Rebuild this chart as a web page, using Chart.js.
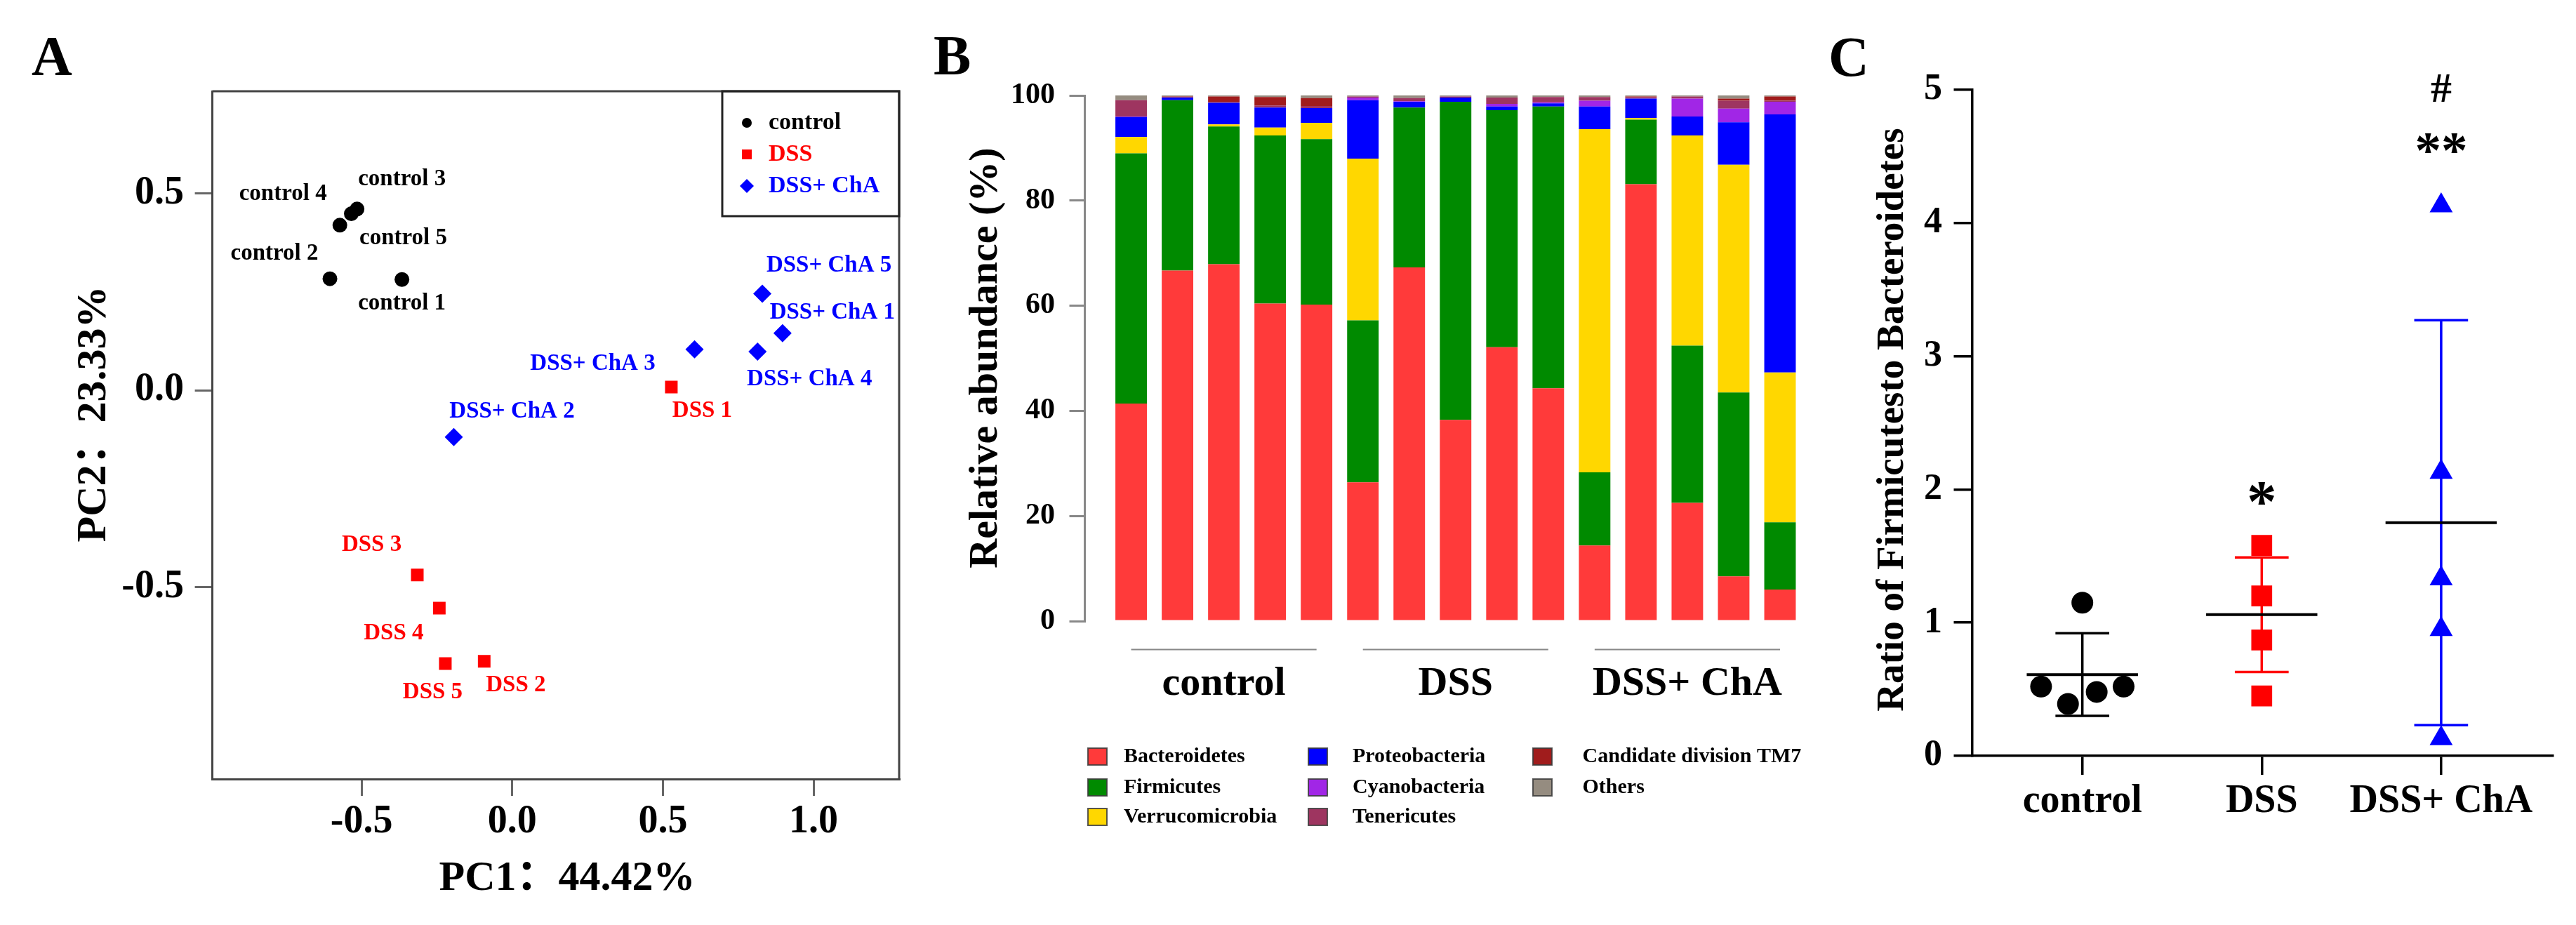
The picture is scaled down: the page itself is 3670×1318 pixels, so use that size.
<!DOCTYPE html>
<html>
<head>
<meta charset="utf-8">
<script src="https://cdn.jsdelivr.net/npm/chart.js@4.4.1/dist/chart.umd.min.js"></script>
<style>
html, body { margin: 0; padding: 0; background: #fff; }
#wrap { position: relative; width: 3670px; height: 1318px; overflow: hidden; background: #fff; }
canvas { position: absolute; top: 0; }
</style>
</head>
<body>
<div id="wrap">
  <canvas id="pcaChart" width="1300" height="1318" style="left:0px"></canvas>
  <canvas id="abundChart" width="1310" height="1318" style="left:1290px"></canvas>
  <canvas id="ratioChart" width="1090" height="1318" style="left:2580px"></canvas>
</div>
<script>
// ---------- A: PCA ----------
var pcaGroups = ['control', 'DSS', 'DSS+ ChA'];
var controlNames = ['control 1', 'control 2', 'control 3', 'control 4', 'control 5'];
var controlPC1 = [-0.366, -0.605, -0.515, -0.572, -0.534];
var controlPC2 = [0.281, 0.283, 0.460, 0.419, 0.448];
var dssNames = ['DSS 1', 'DSS 2', 'DSS 3', 'DSS 4', 'DSS 5'];
var dssPC1 = [0.528, -0.093, -0.315, -0.242, -0.222];
var dssPC2 = [0.008, -0.688, -0.469, -0.553, -0.694];
var chaNames = ['DSS+ ChA 1', 'DSS+ ChA 2', 'DSS+ ChA 3', 'DSS+ ChA 4', 'DSS+ ChA 5'];
var chaPC1 = [0.897, -0.194, 0.605, 0.814, 0.830];
var chaPC2 = [0.145, -0.119, 0.104, 0.098, 0.245];
var pcaTicksX = [-0.5, 0.0, 0.5, 1.0];
var pcaTicksY = [-0.5, 0.0, 0.5];

// ---------- B: relative abundance (%) ----------
var samples = ['control 1', 'control 2', 'control 3', 'control 4', 'control 5',
  'DSS 1', 'DSS 2', 'DSS 3', 'DSS 4', 'DSS 5',
  'DSS+ ChA 1', 'DSS+ ChA 2', 'DSS+ ChA 3', 'DSS+ ChA 4', 'DSS+ ChA 5'];
var sampleGroup = [0, 0, 0, 0, 0, 1, 1, 1, 1, 1, 2, 2, 2, 2, 2];
var phyla = ['Bacteroidetes', 'Firmicutes', 'Verrucomicrobia', 'Proteobacteria',
  'Cyanobacteria', 'Tenericutes', 'Candidate division TM7', 'Others'];
var bacteroidetes = [41.4, 66.7, 67.9, 60.4, 60.2, 26.4, 67.3, 38.3, 52.1, 44.3, 14.4, 83.1, 22.5, 8.5, 6.0];
var firmicutes = [47.6, 32.4, 26.2, 32.0, 31.5, 30.8, 30.4, 60.5, 45.1, 53.6, 13.9, 12.3, 29.9, 35.0, 12.8];
var verrucomicrobia = [3.1, 0, 0.4, 1.5, 3.1, 30.8, 0, 0, 0, 0, 65.3, 0.3, 40.0, 43.3, 28.5];
var proteobacteria = [3.8, 0.5, 4.1, 3.8, 2.8, 11.1, 1.1, 0.8, 0.7, 0.6, 4.3, 3.7, 3.6, 8.1, 49.1];
var cyanobacteria = [0.1, 0, 0, 0, 0, 0.5, 0.1, 0, 0.5, 0.2, 1.1, 0, 3.4, 2.6, 2.4];
var tenericutes = [3.1, 0.1, 0.2, 0.4, 0.4, 0.2, 0.6, 0.2, 1.2, 1.0, 0.7, 0.3, 0.4, 1.5, 0.2];
var tm7 = [0, 0.1, 1.0, 1.6, 1.5, 0, 0, 0, 0, 0, 0, 0.1, 0, 0.4, 0.8];
var others = [0.9, 0.2, 0.2, 0.3, 0.5, 0.2, 0.5, 0.2, 0.4, 0.3, 0.3, 0.2, 0.2, 0.6, 0.2];
var abundTicks = [0, 20, 40, 60, 80, 100];

// ---------- C: Firmicutes / Bacteroidetes ratio ----------
var ratioGroups = ['control', 'DSS', 'DSS+ ChA'];
var controlRatio = [1.15, 0.52, 0.39, 0.48, 0.52];
var controlRatioX = [0, -0.23, -0.08, 0.08, 0.23];
var dssRatio = [1.58, 1.20, 0.87, 0.45];
var dssRatioX = [1, 1, 1, 1];
var chaRatio = [4.13, 2.13, 1.33, 0.95, 0.13];
var chaRatioX = [2, 2, 2, 2, 2];
var ratioMean = [0.61, 1.06, 1.75];
var ratioSD = [0.31, 0.43, 1.52];
var sigText = ['*', '**', '#'];
var sigGroup = [1, 2, 2];
var sigLevel = [1.97, 4.60, 5.01];
var ratioTicks = [0, 1, 2, 3, 4, 5];

// ---------- styles ----------
var FONT = "'Liberation Serif', 'Times New Roman', 'Noto Sans CJK SC', serif";
Chart.defaults.font.family = FONT;
Chart.defaults.font.weight = 'bold';
Chart.defaults.color = '#000';

var groupColors = ['#000000', '#FF0000', '#0000FF'];
var phylaColors = ['#FF3A3A', '#008A00', '#FFD700', '#0000FF', '#A126E6', '#9E3560', '#A01C1C', '#958C80'];

// label offsets (px) for PCA point names, per group / sample
var pcaLabelShift = [
  [[0, 34], [-79, -36], [64, -42], [-81, -44], [74, 35]],
  [[44, 34], [45, 34], [-65, -43], [-65, 36], [-18, 41]],
  [[71, -29], [83, -36], [-145, 21], [74, 39], [95, -40]]
];

function txt(ctx, s, x, y, size, color, align, rot) {
  ctx.save();
  ctx.font = 'bold ' + size + 'px ' + FONT;
  ctx.fillStyle = color || '#000';
  ctx.textAlign = align || 'center';
  ctx.textBaseline = 'middle';
  ctx.translate(x, y);
  if (rot) ctx.rotate(rot);
  ctx.fillText(s, 0, 0);
  ctx.restore();
}

// draws a glyph with its visible box centred on (x, y)
function glyph(ctx, s, x, y, size, color) {
  ctx.save();
  ctx.font = 'bold ' + size + 'px ' + FONT;
  ctx.fillStyle = color;
  ctx.textAlign = 'center';
  ctx.textBaseline = 'alphabetic';
  var m = ctx.measureText(s);
  ctx.fillText(s, x, y + (m.actualBoundingBoxAscent - m.actualBoundingBoxDescent) / 2);
  ctx.restore();
}

function letter(ctx, s, x, y) {
  ctx.save();
  ctx.font = 'bold 80px ' + FONT;
  ctx.fillStyle = '#000';
  ctx.textAlign = 'left';
  ctx.textBaseline = 'alphabetic';
  ctx.fillText(s, x, y);
  ctx.restore();
}

function marker(ctx, style, x, y, r, color) {
  ctx.save();
  ctx.fillStyle = color;
  ctx.beginPath();
  if (style === 'circle') {
    ctx.arc(x, y, r, 0, Math.PI * 2);
  } else if (style === 'rect') {
    ctx.rect(x - r, y - r, 2 * r, 2 * r);
  } else {
    ctx.moveTo(x, y - r); ctx.lineTo(x + r, y); ctx.lineTo(x, y + r); ctx.lineTo(x - r, y);
    ctx.closePath();
  }
  ctx.fill();
  ctx.restore();
}

function tickGrid(color, len, width) {
  return { display: true, drawOnChartArea: false, drawTicks: true, tickLength: len, color: color, lineWidth: width };
}

// ---------- A ----------
var pcaDecor = {
  id: 'pcaDecor',
  afterDatasetsDraw: function(chart) {
    var ctx = chart.ctx;
    chart.data.datasets.forEach(function(ds, i) {
      chart.getDatasetMeta(i).data.forEach(function(pt, j) {
        var sh = pcaLabelShift[i][j];
        txt(ctx, ds.names[j], pt.x + sh[0], pt.y + sh[1], 33, ds.backgroundColor);
      });
    });
  },
  afterDraw: function(chart) {
    var ctx = chart.ctx, a = chart.chartArea;
    ctx.save();
    ctx.strokeStyle = '#444';
    ctx.lineWidth = 3;
    ctx.beginPath();
    ctx.moveTo(a.left, a.top); ctx.lineTo(a.right, a.top); ctx.lineTo(a.right, a.bottom);
    ctx.stroke();
    // legend box in the top right corner
    var lw = 252, lh = 178, lx = a.right - lw, ly = a.top;
    ctx.strokeStyle = '#222';
    ctx.strokeRect(lx, ly, lw, lh);
    ctx.restore();
    var legR = [7, 7, 10];
    chart.data.datasets.forEach(function(ds, i) {
      var cy = ly + 45 + i * 45;
      marker(ctx, ds.pointStyle === 'rectRot' ? 'diamond' : ds.pointStyle, lx + 35, cy, legR[i], ds.backgroundColor);
      txt(ctx, ds.label, lx + 66, cy, 34, ds.backgroundColor, 'left');
    });
    letter(ctx, 'A', 45, 107);
    txt(ctx, 'PC1：44.42%', 808, 1252, 60, '#000');
    txt(ctx, 'PC2：23.33%', 134, 590, 60, '#000', 'center', -Math.PI / 2);
  }
};

function pts(xs, ys) { return xs.map(function(x, i) { return { x: x, y: ys[i] }; }); }

new Chart(document.getElementById('pcaChart'), {
  type: 'scatter',
  data: {
    datasets: [
      { label: pcaGroups[0], names: controlNames, data: pts(controlPC1, controlPC2),
        pointStyle: 'circle', pointRadius: 10.5, backgroundColor: groupColors[0], borderWidth: 0 },
      { label: pcaGroups[1], names: dssNames, data: pts(dssPC1, dssPC2),
        pointStyle: 'rect', pointRadius: 12.7, backgroundColor: groupColors[1], borderWidth: 0 },
      { label: pcaGroups[2], names: chaNames, data: pts(chaPC1, chaPC2),
        pointStyle: 'rectRot', pointRadius: 13, backgroundColor: groupColors[2], borderWidth: 0 }
    ]
  },
  options: {
    responsive: false, animation: false, devicePixelRatio: 1,
    layout: { padding: { left: 82.6, right: 19, top: 130, bottom: 108 } },
    plugins: { legend: { display: false }, tooltip: { enabled: false } },
    scales: {
      x: {
        type: 'linear', min: -0.995, max: 1.284,
        afterFit: function(s) { s.height = 100; },
        afterBuildTicks: function(s) { s.ticks = pcaTicksX.map(function(v) { return { value: v }; }); },
        grid: tickGrid('#666', 24, 3),
        border: { display: true, color: '#444', width: 3 },
        ticks: { font: { size: 56 }, padding: 4, maxRotation: 0, callback: function(v) { return Number(v).toFixed(1); } }
      },
      y: {
        type: 'linear', min: -0.987, max: 0.759,
        afterFit: function(s) { s.width = 220; },
        afterBuildTicks: function(s) { s.ticks = pcaTicksY.map(function(v) { return { value: v }; }); },
        grid: tickGrid('#666', 25, 3),
        border: { display: true, color: '#444', width: 3 },
        ticks: { font: { size: 56 }, padding: 15.6, callback: function(v) { return Number(v).toFixed(1); } }
      }
    }
  },
  plugins: [pcaDecor]
});

// ---------- B ----------
var abundDecor = {
  id: 'abundDecor',
  afterDraw: function(chart) {
    var ctx = chart.ctx, xs = chart.scales.x, a = chart.chartArea;
    ratioGroups.forEach(function(g, gi) {
      var idx = [];
      sampleGroup.forEach(function(s, i) { if (s === gi) idx.push(i); });
      var x0 = xs.getPixelForValue(idx[0]), x1 = xs.getPixelForValue(idx[idx.length - 1]);
      ctx.save();
      ctx.strokeStyle = '#888';
      ctx.lineWidth = 2;
      ctx.beginPath();
      ctx.moveTo(x0, a.bottom + 40.5); ctx.lineTo(x1, a.bottom + 40.5);
      ctx.stroke();
      ctx.restore();
      txt(ctx, g, (x0 + x1) / 2, a.bottom + 90, 58, '#000');
    });
    // legend, three rows per column
    var colSw = [260, 574, 894], colTx = [311, 637, 964.5], rowY = [1078, 1122, 1164];
    chart.data.datasets.forEach(function(ds, i) {
      var c = Math.floor(i / 3), r = i % 3;
      ctx.save();
      ctx.fillStyle = ds.backgroundColor;
      ctx.fillRect(colSw[c], rowY[r] - 12, 27, 24);
      ctx.strokeStyle = 'rgba(60,60,60,0.85)';
      ctx.lineWidth = 2;
      ctx.strokeRect(colSw[c], rowY[r] - 12, 27, 24);
      ctx.restore();
      txt(ctx, ds.label, colTx[c], rowY[r], 30, '#000', 'left');
    });
    letter(ctx, 'B', 40, 106);
    txt(ctx, 'Relative abundance (%)', 115, 510, 58, '#000', 'center', -Math.PI / 2);
  }
};

var phylaValues = [bacteroidetes, firmicutes, verrucomicrobia, proteobacteria, cyanobacteria, tenericutes, tm7, others];

new Chart(document.getElementById('abundChart'), {
  type: 'bar',
  data: {
    datasets: phyla.map(function(p, k) {
      return {
        label: p,
        data: phylaValues[k].map(function(v, i) { return { x: i, y: v }; }),
        backgroundColor: phylaColors[k],
        borderWidth: 0,
        barPercentage: 0.68,
        categoryPercentage: 1.0
      };
    })
  },
  options: {
    responsive: false, animation: false, devicePixelRatio: 1,
    layout: { padding: { left: 105.5, right: 31, top: 136, bottom: 433 } },
    plugins: { legend: { display: false }, tooltip: { enabled: false } },
    scales: {
      x: { type: 'linear', min: -1, max: 14.5, stacked: true, offset: false, display: false },
      y: {
        type: 'linear', min: 0, max: 100, stacked: true,
        afterFit: function(s) { s.width = 150; },
        afterBuildTicks: function(s) { s.ticks = abundTicks.map(function(v) { return { value: v }; }); },
        grid: tickGrid('#888', 22, 3),
        border: { display: true, color: '#888', width: 3 },
        ticks: { font: { size: 42 }, padding: 20.5 }
      }
    }
  },
  plugins: [abundDecor]
});

// ---------- C ----------
var ratioDecor = {
  id: 'ratioDecor',
  beforeDatasetsDraw: function(chart) {
    var ctx = chart.ctx, xs = chart.scales.x, ys = chart.scales.y;
    ratioMean.forEach(function(m, g) {
      var px = xs.getPixelForValue(g);
      var meanHalf = xs.getPixelForValue(g + 0.31) - px;
      var capHalf = xs.getPixelForValue(g + 0.15) - px;
      var yHi = ys.getPixelForValue(m + ratioSD[g]), yLo = ys.getPixelForValue(m - ratioSD[g]);
      var ym = ys.getPixelForValue(m);
      ctx.save();
      ctx.strokeStyle = groupColors[g];
      ctx.lineWidth = 3.5;
      ctx.beginPath();
      ctx.moveTo(px, yHi); ctx.lineTo(px, yLo);
      ctx.moveTo(px - capHalf, yHi); ctx.lineTo(px + capHalf, yHi);
      ctx.moveTo(px - capHalf, yLo); ctx.lineTo(px + capHalf, yLo);
      ctx.stroke();
      ctx.strokeStyle = '#000';
      ctx.lineWidth = 4;
      ctx.beginPath();
      ctx.moveTo(px - meanHalf, ym); ctx.lineTo(px + meanHalf, ym);
      ctx.stroke();
      ctx.restore();
    });
  },
  afterDraw: function(chart) {
    var ctx = chart.ctx, xs = chart.scales.x, ys = chart.scales.y;
    var sigSize = [85, 75, 60];
    sigText.forEach(function(s, i) {
      glyph(ctx, s, xs.getPixelForValue(sigGroup[i]), ys.getPixelForValue(sigLevel[i]), sigSize[i], '#000');
    });
    letter(ctx, 'C', 25, 108);
    txt(ctx, 'Ratio of Firmicutesto Bacteroidetes', 117, 598, 55, '#000', 'center', -Math.PI / 2);
  }
};

new Chart(document.getElementById('ratioChart'), {
  type: 'scatter',
  data: {
    datasets: [
      { label: ratioGroups[0], data: pts(controlRatioX, controlRatio), pointStyle: 'circle',
        pointRadius: 15.5, backgroundColor: groupColors[0], borderWidth: 0 },
      { label: ratioGroups[1], data: pts(dssRatioX, dssRatio), pointStyle: 'rect',
        pointRadius: 21, backgroundColor: groupColors[1], borderWidth: 0 },
      { label: ratioGroups[2], data: pts(chaRatioX, chaRatio), pointStyle: 'triangle',
        pointRadius: 19, backgroundColor: groupColors[2], borderWidth: 0 }
    ]
  },
  options: {
    responsive: false, animation: false, devicePixelRatio: 1,
    layout: { padding: { left: 109.5, right: 33.4, top: 127.8, bottom: 121 } },
    plugins: { legend: { display: false }, tooltip: { enabled: false } },
    scales: {
      x: {
        type: 'linear', min: -0.615, max: 2.621,
        afterFit: function(s) { s.height = 120; },
        afterBuildTicks: function(s) { s.ticks = ratioGroups.map(function(g, i) { return { value: i }; }); },
        grid: tickGrid('#000', 27, 3.5),
        border: { display: true, color: '#000', width: 3.5 },
        ticks: { font: { size: 56 }, padding: 5.4, maxRotation: 0, callback: function(v) { return ratioGroups[v]; } }
      },
      y: {
        type: 'linear', min: 0, max: 5,
        afterFit: function(s) { s.width = 120; },
        afterBuildTicks: function(s) { s.ticks = ratioTicks.map(function(v) { return { value: v }; }); },
        grid: tickGrid('#000', 26, 3.5),
        border: { display: true, color: '#000', width: 3.5 },
        ticks: { font: { size: 52 }, padding: 16.5 }
      }
    }
  },
  plugins: [ratioDecor]
});
</script>
</body>
</html>
